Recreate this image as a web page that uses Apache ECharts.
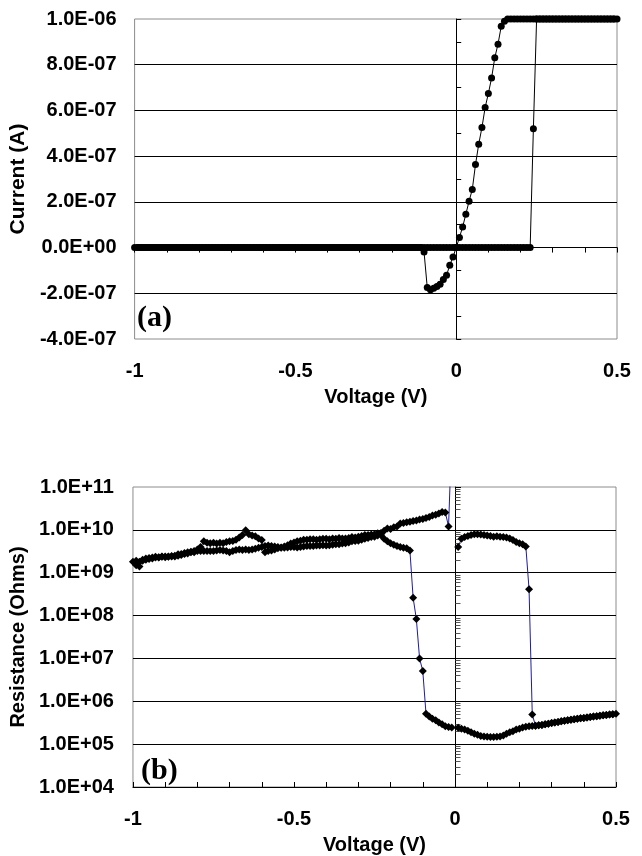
<!DOCTYPE html>
<html>
<head>
<meta charset="utf-8">
<script src="https://cdn.jsdelivr.net/npm/echarts@6/dist/echarts.min.js"></script>
<style>
html,body{margin:0;padding:0;background:#fff;}
#chart{width:642px;height:856px;}
</style>
</head>
<body>
<div id="chart"></div>
<script>
// ---------- Tick labels ----------
const voltTickLabels = ['-1', '-0.5', '0', '0.5'];
const ivTickLabels = ['-4.0E-07', '-2.0E-07', '0.0E+00', '2.0E-07', '4.0E-07', '6.0E-07', '8.0E-07', '1.0E-06'];
const rTickLabels = ['1.0E+04', '1.0E+05', '1.0E+06', '1.0E+07', '1.0E+08', '1.0E+09', '1.0E+10', '1.0E+11'];

// ---------- Panel (a): I-V sweeps ----------
// Sweep A: 0 -> 0.5 V
const ivSweepA_V = [0.00,0.01,0.02,0.03,0.04,0.05,0.06,0.07,0.08,0.09,0.10,0.11,0.12,0.13,0.14,0.15,0.16,0.17,0.18,0.19,0.20,0.21,0.22,0.23,0.24,0.25,0.26,0.27,0.28,0.29,0.30,0.31,0.32,0.33,0.34,0.35,0.36,0.37,0.38,0.39,0.40,0.41,0.42,0.43,0.44,0.45,0.46,0.47,0.48,0.49,0.50];
const ivSweepA_I = [0,0,0,0,0,0,0,0,0,0,0,0,0,0,0,0,0,0,0,0,0,0,0,0,5.2e-7,1e-6,1e-6,1e-6,1e-6,1e-6,1e-6,1e-6,1e-6,1e-6,1e-6,1e-6,1e-6,1e-6,1e-6,1e-6,1e-6,1e-6,1e-6,1e-6,1e-6,1e-6,1e-6,1e-6,1e-6,1e-6,1e-6];
// Sweep B: 0.5 -> 0 V
const ivSweepB_V = [0.49,0.48,0.47,0.46,0.45,0.44,0.43,0.42,0.41,0.40,0.39,0.38,0.37,0.36,0.35,0.34,0.33,0.32,0.31,0.30,0.29,0.28,0.27,0.26,0.25,0.24,0.23,0.22,0.21,0.20,0.19,0.18,0.17,0.16,0.15,0.14,0.13,0.12,0.11,0.10,0.09,0.08,0.07,0.06,0.05,0.04,0.03,0.02,0.01,0.00];
const ivSweepB_I = [1e-6,1e-6,1e-6,1e-6,1e-6,1e-6,1e-6,1e-6,1e-6,1e-6,1e-6,1e-6,1e-6,1e-6,1e-6,1e-6,1e-6,1e-6,1e-6,1e-6,1e-6,1e-6,1e-6,1e-6,1e-6,1e-6,1e-6,1e-6,1e-6,1e-6,1e-6,1e-6,1e-6,1e-6,9.9e-7,9.68e-7,8.9e-7,8.31e-7,7.42e-7,6.74e-7,6.13e-7,5.25e-7,4.52e-7,3.63e-7,2.54e-7,2.03e-7,1.46e-7,9.0e-8,4.4e-8,0];
// Sweep C: 0 -> -1 V
const ivSweepC_V = [-0.01,-0.02,-0.03,-0.04,-0.05,-0.06,-0.07,-0.08,-0.09,-0.10,-0.11,-0.12,-0.13,-0.14,-0.15,-0.16,-0.17,-0.18,-0.19,-0.20,-0.21,-0.22,-0.23,-0.24,-0.25,-0.26,-0.27,-0.28,-0.29,-0.30,-0.31,-0.32,-0.33,-0.34,-0.35,-0.36,-0.37,-0.38,-0.39,-0.40,-0.41,-0.42,-0.43,-0.44,-0.45,-0.46,-0.47,-0.48,-0.49,-0.50,-0.51,-0.52,-0.53,-0.54,-0.55,-0.56,-0.57,-0.58,-0.59,-0.60,-0.61,-0.62,-0.63,-0.64,-0.65,-0.66,-0.67,-0.68,-0.69,-0.70,-0.71,-0.72,-0.73,-0.74,-0.75,-0.76,-0.77,-0.78,-0.79,-0.80,-0.81,-0.82,-0.83,-0.84,-0.85,-0.86,-0.87,-0.88,-0.89,-0.90,-0.91,-0.92,-0.93,-0.94,-0.95,-0.96,-0.97,-0.98,-0.99,-1.00];
const ivSweepC_I = [-4.1e-8,-7.7e-8,-1.21e-7,-1.40e-7,-1.61e-7,-1.70e-7,-1.78e-7,-1.84e-7,-1.75e-7,-1.9e-8,0,0,0,0,0,0,0,0,0,0,0,0,0,0,0,0,0,0,0,0,0,0,0,0,0,0,0,0,0,0,0,0,0,0,0,0,0,0,0,0,0,0,0,0,0,0,0,0,0,0,0,0,0,0,0,0,0,0,0,0,0,0,0,0,0,0,0,0,0,0,0,0,0,0,0,0,0,0,0,0,0,0,0,0,0,0,0,0,0,0];
// Sweep D: -1 -> 0 V
const ivSweepD_V = [-0.99,-0.98,-0.97,-0.96,-0.95,-0.94,-0.93,-0.92,-0.91,-0.90,-0.89,-0.88,-0.87,-0.86,-0.85,-0.84,-0.83,-0.82,-0.81,-0.80,-0.79,-0.78,-0.77,-0.76,-0.75,-0.74,-0.73,-0.72,-0.71,-0.70,-0.69,-0.68,-0.67,-0.66,-0.65,-0.64,-0.63,-0.62,-0.61,-0.60,-0.59,-0.58,-0.57,-0.56,-0.55,-0.54,-0.53,-0.52,-0.51,-0.50,-0.49,-0.48,-0.47,-0.46,-0.45,-0.44,-0.43,-0.42,-0.41,-0.40,-0.39,-0.38,-0.37,-0.36,-0.35,-0.34,-0.33,-0.32,-0.31,-0.30,-0.29,-0.28,-0.27,-0.26,-0.25,-0.24,-0.23,-0.22,-0.21,-0.20,-0.19,-0.18,-0.17,-0.16,-0.15,-0.14,-0.13,-0.12,-0.11,-0.10,-0.09,-0.08,-0.07,-0.06,-0.05,-0.04,-0.03,-0.02,-0.01,0.00];
const ivSweepD_I = [0,0,0,0,0,0,0,0,0,0,0,0,0,0,0,0,0,0,0,0,0,0,0,0,0,0,0,0,0,0,0,0,0,0,0,0,0,0,0,0,0,0,0,0,0,0,0,0,0,0,0,0,0,0,0,0,0,0,0,0,0,0,0,0,0,0,0,0,0,0,0,0,0,0,0,0,0,0,0,0,0,0,0,0,0,0,0,0,0,0,0,0,0,0,0,0,0,0,0,0];

// ---------- Panel (b): Resistance sweeps ----------
const rSweepA_V = [0.01,0.02,0.03,0.04,0.05,0.06,0.07,0.08,0.09,0.10,0.11,0.12,0.13,0.14,0.15,0.16,0.17,0.18,0.19,0.20,0.21,0.22,0.23,0.24,0.25,0.26,0.27,0.28,0.29,0.30,0.31,0.32,0.33,0.34,0.35,0.36,0.37,0.38,0.39,0.40,0.41,0.42,0.43,0.44,0.45,0.46,0.47,0.48,0.49,0.50];
const rSweepA_R = [4.0e9,6.2e9,6.8e9,7.2e9,7.6e9,7.9e9,7.9e9,7.8e9,7.6e9,7.4e9,7.2e9,6.9e9,7.1e9,6.9e9,6.8e9,6.6e9,6.3e9,5.8e9,5.2e9,4.9e9,4.6e9,4.1e9,4.1e8,4.9e5,2.7e5,2.75e5,2.8e5,2.9e5,3.0e5,3.1e5,3.2e5,3.3e5,3.4e5,3.5e5,3.6e5,3.7e5,3.8e5,3.9e5,4.0e5,4.1e5,4.2e5,4.3e5,4.4e5,4.5e5,4.6e5,4.7e5,4.8e5,4.9e5,5.0e5,5.1e5];
const rSweepB_V = [0.49,0.48,0.47,0.46,0.45,0.44,0.43,0.42,0.41,0.40,0.39,0.38,0.37,0.36,0.35,0.34,0.33,0.32,0.31,0.30,0.29,0.28,0.27,0.26,0.25,0.24,0.23,0.22,0.21,0.20,0.19,0.18,0.17,0.16,0.15,0.14,0.13,0.12,0.11,0.10,0.09,0.08,0.07,0.06,0.05,0.04,0.03,0.02,0.01];
const rSweepB_R = [5.0e5,4.9e5,4.8e5,4.7e5,4.6e5,4.5e5,4.4e5,4.3e5,4.2e5,4.1e5,4.0e5,3.9e5,3.8e5,3.7e5,3.6e5,3.5e5,3.4e5,3.3e5,3.2e5,3.1e5,3.0e5,2.9e5,2.8e5,2.75e5,2.7e5,2.65e5,2.6e5,2.55e5,2.45e5,2.3e5,2.2e5,2.0e5,1.9e5,1.75e5,1.6e5,1.5e5,1.48e5,1.47e5,1.47e5,1.48e5,1.5e5,1.55e5,1.65e5,1.75e5,1.9e5,2.05e5,2.2e5,2.3e5,2.4e5];
const rSweepC_V = [-0.01,-0.02,-0.03,-0.04,-0.05,-0.06,-0.07,-0.08,-0.09,-0.10,-0.11,-0.12,-0.13,-0.14,-0.15,-0.16,-0.17,-0.18,-0.19,-0.20,-0.21,-0.22,-0.23,-0.24,-0.25,-0.26,-0.27,-0.28,-0.29,-0.30,-0.31,-0.32,-0.33,-0.34,-0.35,-0.36,-0.37,-0.38,-0.39,-0.40,-0.41,-0.42,-0.43,-0.44,-0.45,-0.46,-0.47,-0.48,-0.49,-0.50,-0.51,-0.52,-0.53,-0.54,-0.55,-0.56,-0.57,-0.58,-0.59,-0.60,-0.61,-0.62,-0.63,-0.64,-0.65,-0.66,-0.67,-0.68,-0.69,-0.70,-0.71,-0.72,-0.73,-0.74,-0.75,-0.76,-0.77,-0.78,-0.79,-0.80,-0.81,-0.82,-0.83,-0.84,-0.85,-0.86,-0.87,-0.88,-0.89,-0.90,-0.91,-0.92,-0.93,-0.94,-0.95,-0.96,-0.97,-0.98,-0.99,-1.00];
const rSweepC_R = [2.45e5,2.5e5,2.6e5,2.9e5,3.2e5,3.6e5,3.9e5,4.4e5,5.1e5,5.1e6,1.0e7,8.3e7,2.6e8,3.3e9,3.7e9,3.8e9,4.0e9,4.2e9,4.5e9,4.9e9,5.4e9,6.2e9,7.6e9,8.3e9,7.9e9,7.8e9,7.6e9,7.6e9,7.2e9,6.9e9,6.6e9,6.8e9,6.5e9,6.3e9,6.3e9,6.5e9,6.2e9,6.3e9,6.0e9,6.2e9,6.2e9,6.0e9,5.9e9,6.0e9,6.0e9,5.9e9,5.9e9,5.6e9,5.4e9,5.1e9,4.8e9,4.4e9,4.1e9,3.9e9,3.7e9,3.5e9,3.3e9,3.2e9,3.0e9,5.8e9,6.3e9,7.1e9,7.4e9,7.9e9,9.8e9,7.6e9,6.6e9,5.9e9,5.5e9,5.4e9,5.2e9,4.9e9,5.0e9,4.8e9,5.0e9,4.9e9,5.0e9,5.4e9,4.0e9,3.5e9,3.2e9,3.1e9,3.0e9,2.9e9,2.75e9,2.7e9,2.5e9,2.4e9,2.4e9,2.3e9,2.35e9,2.25e9,2.25e9,2.15e9,2.1e9,2.0e9,2.0e9,1.8e9,1.9e9,1.8e9];
const rSweepD_V = [-0.99,-0.98,-0.97,-0.96,-0.95,-0.94,-0.93,-0.92,-0.91,-0.90,-0.89,-0.88,-0.87,-0.86,-0.85,-0.84,-0.83,-0.82,-0.81,-0.80,-0.79,-0.78,-0.77,-0.76,-0.75,-0.74,-0.73,-0.72,-0.71,-0.70,-0.69,-0.68,-0.67,-0.66,-0.65,-0.64,-0.63,-0.62,-0.61,-0.60,-0.59,-0.58,-0.57,-0.56,-0.55,-0.54,-0.53,-0.52,-0.51,-0.50,-0.49,-0.48,-0.47,-0.46,-0.45,-0.44,-0.43,-0.42,-0.41,-0.40,-0.39,-0.38,-0.37,-0.36,-0.35,-0.34,-0.33,-0.32,-0.31,-0.30,-0.29,-0.28,-0.27,-0.26,-0.25,-0.24,-0.23,-0.22,-0.21,-0.20,-0.19,-0.18,-0.17,-0.16,-0.15,-0.14,-0.13,-0.12,-0.11,-0.10,-0.09,-0.08,-0.07,-0.06,-0.05,-0.04,-0.03,-0.02,-0.01];
const rSweepD_R = [1.5e9,1.4e9,1.9e9,2.15e9,2.2e9,2.25e9,2.35e9,2.3e9,2.4e9,2.4e9,2.35e9,2.45e9,2.4e9,2.5e9,2.6e9,2.75e9,2.8e9,3.0e9,3.0e9,3.2e9,3.2e9,3.2e9,3.2e9,3.2e9,3.2e9,3.3e9,3.4e9,3.3e9,3.2e9,3.0e9,3.2e9,3.4e9,3.5e9,3.4e9,3.5e9,3.4e9,3.5e9,3.6e9,3.8e9,4.0e9,4.2e9,4.3e9,4.2e9,4.1e9,4.0e9,3.8e9,3.8e9,3.9e9,4.0e9,4.0e9,3.9e9,4.0e9,4.1e9,4.2e9,4.2e9,4.2e9,4.3e9,4.3e9,4.4e9,4.3e9,4.4e9,4.5e9,4.6e9,4.6e9,4.8e9,4.9e9,5.1e9,5.4e9,5.5e9,5.6e9,5.9e9,6.2e9,6.5e9,6.8e9,6.9e9,7.4e9,8.5e9,9.5e9,1.07e10,1.05e10,1.15e10,1.2e10,1.4e10,1.45e10,1.5e10,1.55e10,1.6e10,1.66e10,1.74e10,1.8e10,1.9e10,2.0e10,2.15e10,2.25e10,2.4e10,2.6e10,2.55e10,1.2e10,1.6e12];

// Minor tick multipliers for the log axis drawn at V = 0
const logMinorMultipliers = [2, 3, 4, 5, 6, 7, 8, 9];
const logDecades = [1e4, 1e5, 1e6, 1e7, 1e8, 1e9, 1e10];

// ---------- Build series data ----------
function pairs(xs, ys) { return xs.map((x, i) => [x, ys[i]]); }
const ivData = [].concat(
  pairs(ivSweepA_V, ivSweepA_I), pairs(ivSweepB_V, ivSweepB_I),
  pairs(ivSweepC_V, ivSweepC_I), pairs(ivSweepD_V, ivSweepD_I));
const rData = [].concat(
  pairs(rSweepA_V, rSweepA_R), pairs(rSweepB_V, rSweepB_R),
  pairs(rSweepC_V, rSweepC_R), pairs(rSweepD_V, rSweepD_R));
const minorTickData = [];
logDecades.forEach(d => logMinorMultipliers.forEach(k => minorTickData.push([0, k * d])));

const FONT = 'Liberation Sans';
const labelStyle = { fontFamily: FONT, fontWeight: 'bold', fontSize: 20, color: '#000' };
const nameStyleX = { fontFamily: FONT, fontWeight: 'bold', fontSize: 20, color: '#000' };
const nameStyleYa = { fontFamily: FONT, fontWeight: 'bold', fontSize: 21, color: '#000' };
const nameStyleYb = { fontFamily: FONT, fontWeight: 'bold', fontSize: 20, color: '#000' };

const chart = echarts.init(document.getElementById('chart'), null, { renderer: 'canvas' });

const option = {
  animation: false,
  backgroundColor: '#fff',
  grid: [
    { left: 131, right: 25, top: 19, height: 320, show: true, borderColor: '#8c8c8c', borderWidth: 1, backgroundColor: 'transparent' },
    { left: 131, right: 26, top: 487, height: 302, show: true, borderColor: '#8c8c8c', borderWidth: 1, backgroundColor: 'transparent' }
  ],
  xAxis: [
    { // 0: labels panel a
      gridIndex: 0, type: 'value', min: -1, max: 0.5, interval: 0.5, position: 'bottom',
      axisLine: { show: false, onZero: false }, axisTick: { show: false }, splitLine: { show: false },
      axisLabel: { ...labelStyle, margin: 22, formatter: v => voltTickLabels[Math.round((v + 1) / 0.5)] },
      name: 'Voltage (V)', nameLocation: 'middle', nameGap: 48, nameTextStyle: nameStyleX
    },
    { // 1: zero line with ticks panel a
      gridIndex: 0, type: 'value', min: -1, max: 0.5, interval: 0.1, position: 'bottom',
      axisLine: { show: true, onZero: true, onZeroAxisIndex: 1, lineStyle: { color: '#000', width: 1 } },
      axisTick: { show: true, inside: false, length: 5, lineStyle: { color: '#000' } },
      axisLabel: { show: false }, splitLine: { show: false }
    },
    { // 2: labels panel b
      gridIndex: 1, type: 'value', min: -1, max: 0.5, interval: 0.5, position: 'bottom',
      axisLine: { show: false, onZero: false }, axisTick: { show: false }, splitLine: { show: false },
      axisLabel: { ...labelStyle, margin: 22, formatter: v => voltTickLabels[Math.round((v + 1) / 0.5)] },
      name: 'Voltage (V)', nameLocation: 'middle', nameGap: 48, nameTextStyle: nameStyleX
    },
    { // 3: bottom axis line with ticks panel b
      gridIndex: 1, type: 'value', min: -1, max: 0.5, interval: 0.1, position: 'bottom',
      axisLine: { show: true, onZero: false, lineStyle: { color: '#000', width: 1 } },
      axisTick: { show: true, inside: true, length: 5, lineStyle: { color: '#000' } },
      axisLabel: { show: false }, splitLine: { show: false }
    }
  ],
  yAxis: [
    { // 0: labels panel a
      gridIndex: 0, type: 'value', min: -4e-7, max: 1e-6, interval: 2e-7, position: 'left',
      axisLine: { show: false, onZero: false }, axisTick: { show: false },
      splitLine: { show: true, showMinLine: false, showMaxLine: false, lineStyle: { color: '#000', width: 1 } },
      axisLabel: { ...labelStyle, margin: 18, formatter: v => ivTickLabels[Math.round((v + 4e-7) / 2e-7)] },
      name: 'Current (A)', nameLocation: 'middle', nameRotate: 90, nameGap: 96, nameTextStyle: nameStyleYa
    },
    { // 1: y line at V=0 panel a
      gridIndex: 0, type: 'value', min: -4e-7, max: 1e-6, interval: 1e-7, position: 'left',
      axisLine: { show: true, onZero: true, onZeroAxisIndex: 0, lineStyle: { color: '#000', width: 1 } },
      axisTick: { show: true, inside: true, length: 5, lineStyle: { color: '#000' } },
      axisLabel: { show: false }, splitLine: { show: false }
    },
    { // 2: labels panel b (log)
      gridIndex: 1, type: 'log', logBase: 10, min: 1e4, max: 1e11, interval: 1, position: 'left',
      axisLine: { show: false, onZero: false }, axisTick: { show: false },
      splitLine: { show: true, showMinLine: false, showMaxLine: false, lineStyle: { color: '#000', width: 1 } },
      axisLabel: { ...labelStyle, margin: 19, formatter: v => rTickLabels[Math.round(Math.log10(v)) - 4] },
      name: 'Resistance (Ohms)', nameLocation: 'middle', nameRotate: 90, nameGap: 97, nameTextStyle: nameStyleYb
    },
    { // 3: y line at V=0 panel b
      gridIndex: 1, type: 'log', logBase: 10, min: 1e4, max: 1e11, interval: 1, position: 'left',
      axisLine: { show: true, onZero: true, onZeroAxisIndex: 2, lineStyle: { color: '#000', width: 1 } },
      axisTick: { show: true, inside: true, length: 6, lineStyle: { color: '#000' } },
      axisLabel: { show: false }, splitLine: { show: false }
    }
  ],
  graphic: [
    { type: 'text', left: 137, top: 303, style: { text: '(a)', fontFamily: 'Liberation Serif', fontWeight: 'bold', fontSize: 30, fill: '#000' } },
    { type: 'text', left: 141, top: 756, style: { text: '(b)', fontFamily: 'Liberation Serif', fontWeight: 'bold', fontSize: 30, fill: '#000' } }
  ],
  series: [
    {
      type: 'line', xAxisIndex: 0, yAxisIndex: 0, data: ivData,
      symbol: 'circle', symbolSize: 7, showSymbol: true, showAllSymbol: true,
      itemStyle: { color: '#000' }, lineStyle: { color: '#000', width: 1 }, clip: true, z: 5
    },
    {
      type: 'custom', xAxisIndex: 2, yAxisIndex: 2, data: minorTickData, silent: true, z: 3,
      renderItem: (params, api) => {
        const p = api.coord([api.value(0), api.value(1)]);
        const x = Math.round(p[0]) + 0.5, y = Math.round(p[1]) + 0.5;
        return { type: 'line', shape: { x1: x, y1: y, x2: x + 5, y2: y }, style: { stroke: '#555', lineWidth: 1 } };
      }
    },
    {
      type: 'line', xAxisIndex: 2, yAxisIndex: 2, data: rData,
      symbol: 'diamond', symbolSize: 8, showSymbol: true, showAllSymbol: true,
      itemStyle: { color: '#000' }, lineStyle: { color: '#1c1ca0', width: 1 }, clip: true, z: 5
    }
  ]
};
chart.setOption(option);
</script>
</body>
</html>
